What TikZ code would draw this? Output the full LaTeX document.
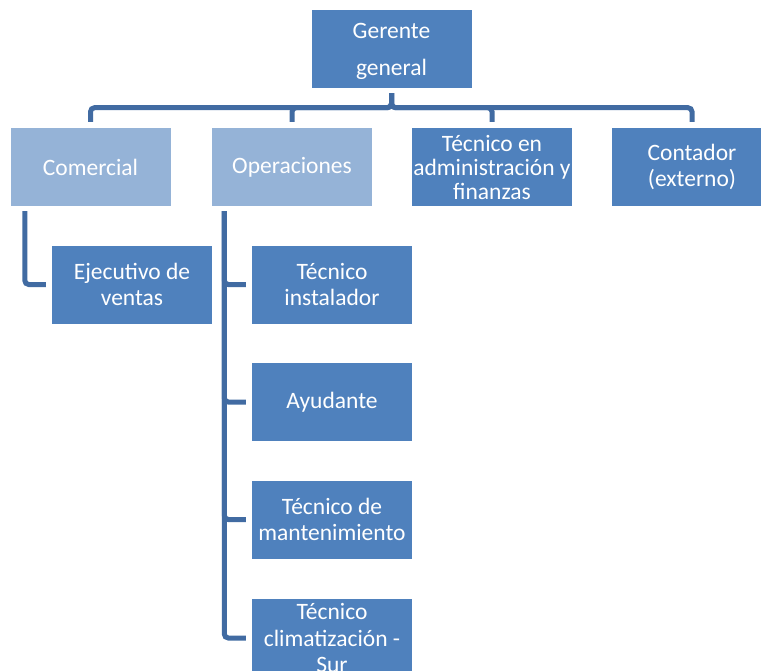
\documentclass[tikz,border=0pt]{standalone}
\usepackage{fontspec}
\setmainfont{Carlito}
\definecolor{azul}{RGB}{79,129,189}
\definecolor{celeste}{RGB}{149,179,215}
\definecolor{trazo}{RGB}{65,107,162}
\begin{document}
\begin{tikzpicture}[x=1pt,y=-1pt,
    caja/.style={fill=azul,text=white,minimum width=160pt,minimum height=78pt,inner sep=0pt,align=center,font=\fontsize{23.5}{26.5}\selectfont},
    cajaclara/.style={caja,fill=celeste},
    linea/.style={draw=trazo,line width=5pt,rounded corners=4pt,shorten <=5pt,shorten >=6pt}]
    \useasboundingbox (0,0) rectangle (761,670);
    \clip (0,0) rectangle (761,670);
    % niveles
    \node[caja,font=\fontsize{23.5}{37}\selectfont,text depth=-3pt] (gg) at (391.5,49) {Gerente\\general};
    \node[cajaclara] (com) at (90.5,167) {Comercial};
    \node[cajaclara] (ope) at (292,167) {Operaciones};
    \node[caja,font=\fontsize{23.5}{24}\selectfont] (adm) at (492,167) {Técnico en\\administración y\\finanzas};
    \node[caja] (con) at (692,167) {Contador\\(externo)};
    \node[caja] (eje) at (132,284.5) {Ejecutivo de\\ventas};
    \node[caja] (tin) at (332,284.5) {Técnico\\instalador};
    \node[caja] (ayu) at (332,402) {Ayudante};
    \node[caja] (tma) at (332,519.5) {Técnico de\\mantenimiento};
    \node[caja] (tcl) at (332,638) {Técnico\\climatización -\\Sur};
    % conectores
    \foreach \h in {com,ope,adm,con}
        \draw[linea] (gg.south) -- ++(0,19.5) -| (\h.north);
    \draw[linea] ([xshift=14.5pt]com.south west) |- (eje.west);
    \foreach \h in {tin,ayu,tma,tcl}
        \draw[linea] ([xshift=12.5pt]ope.south west) |- (\h.west);
\end{tikzpicture}
\end{document}
